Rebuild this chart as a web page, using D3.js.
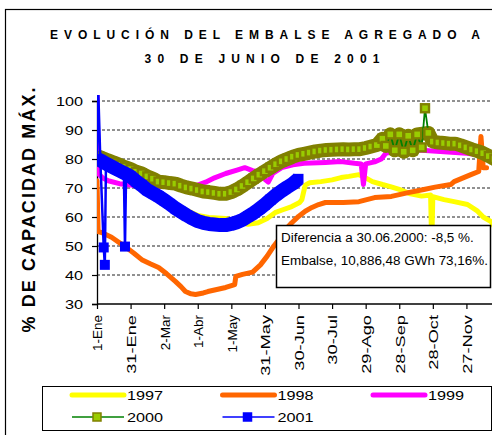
<!DOCTYPE html>
<html>
<head>
<meta charset="utf-8">
<script src="https://cdn.jsdelivr.net/npm/d3@7"></script>
<style>
  body { margin: 0; background: #fff; }
  text { font-family: "Liberation Sans", Arial, sans-serif; fill: #000; }
</style>
</head>
<body>
<div id="chart"></div>
<script>
// x axis: day of year, one tick each 30 days
var tickDays = [0, 30, 60, 90, 120, 150, 180, 210, 240, 270, 300, 330, 360];
var tickLabels = ['1-Ene', '31-Ene', '2-Mar', '1-Abr', '1-May', '31-May', '30-Jun',
                  '30-Jul', '29-Ago', '28-Sep', '28-Oct', '27-Nov', '27-Dic'];
var yTicks = [30, 40, 50, 60, 70, 80, 90, 100];

// % of max capacity
var days1997 = [0, 10, 20, 30, 40, 50, 55, 61, 70, 79, 90, 100, 115, 125, 135, 144, 152, 159, 166, 174, 181, 183,
                186, 190, 200, 210, 218, 225, 234, 240, 246, 255, 262, 270, 280, 290, 298, 299, 300, 310, 319, 331, 340, 345, 352, 356];
var vals1997 = [79, 78, 76, 74, 72, 69, 67.5, 66.4, 64, 62.5, 60.5, 59.8, 59.5, 58.5, 57.5, 58, 59.5, 61.5, 62.5, 63.6, 65, 66,
                71, 71.8, 72.2, 72.8, 73.6, 74, 74.6, 73.5, 72.2, 71.2, 70.5, 69.5, 68, 67.2, 67.6, 50, 67, 66, 65.3, 64.3, 62, 60, 58.4, 56];

var days1998 = [0, 1, 5, 13, 25, 33, 40, 48, 55, 62, 70, 75, 79, 84, 88, 95, 99, 107, 115, 123, 124, 130, 139, 146,
                152, 158, 163, 168, 174, 180, 186, 192, 198, 204, 220, 234, 248, 263, 278, 292, 302, 316, 319, 334, 341, 343, 345, 348];
var vals1998 = [72.5, 55, 54.5, 53, 49.8, 47.5, 45.3, 43.8, 42.6, 40.5, 37.8, 36, 34.3, 33.5, 33.3, 33.8, 34.3, 35, 35.7, 36.7, 39.5, 40.2, 41, 43.5,
                46.5, 50, 52.5, 55.5, 58, 60.2, 62, 63.3, 64.3, 65, 65, 65.3, 66.7, 67.1, 68.4, 69.5, 70.3, 71.2, 72.2, 74.6, 75.7, 87.8, 77, 77];

var days1999 = [0, 1, 5, 10, 20, 30, 45, 60, 75, 90, 97, 105, 115, 125, 132, 139, 145, 150, 153, 157, 165, 175, 185,
                204, 218, 230, 236, 238, 240, 248, 254, 258, 270, 290, 310, 330, 350, 360];
var vals1999 = [105, 75, 73.5, 72.5, 71.5, 71, 70.5, 70.5, 70.5, 71, 72, 73.5, 75, 76.2, 77, 76, 75.5, 73, 72, 75, 77, 78, 78.5,
                78.8, 79.1, 78.5, 78.3, 71.2, 78.3, 79, 80, 82, 83, 83, 82.5, 82, 81, 80];

var days2000 = [0, 5, 10, 15, 20, 25, 30, 35, 40, 45, 50, 55, 60, 65, 70, 75, 80, 85, 90, 95, 100, 105, 110, 115, 120,
                125, 130, 135, 140, 145, 150, 155, 160, 165, 170, 175, 180, 185, 190, 195, 200, 205, 210, 215, 220, 225,
                230, 235, 240, 245, 250, 255, 258, 262, 266, 270, 274, 278, 282, 286, 290, 293, 296, 300, 305, 310, 315,
                320, 325, 330, 335, 340, 345, 350, 355, 360];
var vals2000 = [81, 80.3, 79.5, 78.8, 78, 77.2, 76.5, 75.6, 75, 74, 73.2, 72.2, 72, 71.7, 71.5, 70.8, 70.2, 69.8, 69.3, 68.8, 68.6, 68.3, 68, 68, 68.6,
                69.5, 70.7, 72, 73.3, 74.6, 75.8, 77, 78.2, 79.2, 80, 80.8, 81.4, 81.8, 82.2, 82.6, 82.9, 83.1, 83.2, 83.3, 83.4, 83.3,
                83.4, 83.4, 83.8, 84.3, 84.8, 87, 84.5, 88.5, 83, 88.5, 82.5, 88, 83, 88.5, 84, 97.5, 89, 86, 85.7, 85.5, 85.3,
                85.3, 84.7, 84, 83.3, 82.7, 82, 81, 80, 79];

var days2001 = [0, 1, 3, 6, 7, 8, 10, 15, 20, 24, 25, 26, 30, 35, 40, 45, 50, 55, 60, 65, 70, 75, 80, 85, 90, 95,
                100, 105, 110, 115, 120, 125, 130, 135, 140, 145, 150, 155, 160, 165, 170, 175, 180];
var vals2001 = [80, 105, 79.5, 49.5, 43.5, 78.5, 78, 77, 76, 75.3, 49.8, 75, 74, 72.3, 70.9, 69.3, 68.2, 67.1, 65.8, 64.5, 63, 61.8, 60.6, 59.5, 58.6, 58,
                57.6, 57.4, 57.2, 57.2, 57.6, 58.2, 59, 60.2, 61.4, 62.8, 64.3, 66, 67.6, 69, 70.3, 71.5, 73.16];

var width = 492, height = 435;

var svg = d3.select('#chart').append('svg')
  .attr('width', width)
  .attr('height', height);

// chart frame (right and bottom fall outside the window)
svg.append('rect')
  .attr('x', 5.5).attr('y', 9.5)
  .attr('width', 600).attr('height', 600)
  .attr('fill', '#fff').attr('stroke', '#000').attr('stroke-width', 1.2);

var x = d3.scaleLinear().domain([0, 360]).range([97, 500]);
var y = d3.scaleLinear().domain([30, 100]).range([304, 101]);

// stretch text like the wide glyphs of the original
function stretch(sel, k) {
  sel.each(function() {
    var f = typeof k === 'function' ? k(this.textContent) : k;
    var w = this.getComputedTextLength();
    d3.select(this).attr('textLength', w * f).attr('lengthAdjust', 'spacingAndGlyphs');
  });
}

// title
svg.append('text')
  .attr('x', 265).attr('y', 38.5)
  .attr('text-anchor', 'middle')
  .attr('font-size', 12).attr('font-weight', 'bold')
  .attr('textLength', 430).attr('lengthAdjust', 'spacing')
  .text('EVOLUCIÓN DEL EMBALSE AGREGADO A');
svg.append('text')
  .attr('x', 262).attr('y', 62.5)
  .attr('text-anchor', 'middle')
  .attr('font-size', 12).attr('font-weight', 'bold')
  .attr('textLength', 235).attr('lengthAdjust', 'spacing')
  .text('30 DE  JUNIO DE  2001');

// y title
svg.append('text')
  .attr('transform', 'translate(35,210) rotate(-90)')
  .attr('text-anchor', 'middle')
  .attr('font-size', 18).attr('font-weight', 'bold')
  .attr('textLength', 245).attr('lengthAdjust', 'spacing')
  .text('% DE  CAPACIDAD MÁX.');

// grid
svg.append('g').selectAll('line')
  .data(yTicks.filter(function(d) { return d > 30; }))
  .enter().append('line')
  .attr('x1', x(0)).attr('x2', 520)
  .attr('y1', function(d) { return y(d); })
  .attr('y2', function(d) { return y(d); })
  .attr('stroke', '#222').attr('stroke-width', 1)
  .attr('stroke-dasharray', '3,2');

// axes
var yAxis = svg.append('g')
  .attr('transform', 'translate(' + x(0) + ',0)')
  .call(d3.axisLeft(y).tickValues(yTicks).tickSize(5).tickPadding(9));
var xAxis = svg.append('g')
  .attr('transform', 'translate(0,' + y(30) + ')')
  .call(d3.axisBottom(x).tickValues(tickDays).tickSize(5)
    .tickFormat(function(d, i) { return tickLabels[i]; }));

[yAxis, xAxis].forEach(function(a) {
  a.select('.domain').attr('stroke', '#000').attr('stroke-width', 1.3);
  a.selectAll('.tick line').attr('stroke', '#000').attr('stroke-width', 1.2);
  a.selectAll('text').attr('font-family', '"Liberation Sans", Arial, sans-serif').attr('fill', '#000');
});
xAxis.select('.domain').attr('d', 'M' + x(0) + ',0H520');
yAxis.selectAll('text').attr('font-size', 13.5).attr('dy', '0.33em');
stretch(yAxis.selectAll('text'), 1.2);

xAxis.selectAll('text')
  .attr('font-size', 13.5)
  .attr('transform', 'rotate(-90)')
  .attr('x', -11).attr('y', 0).attr('dy', '0.36em')
  .style('text-anchor', 'end');
stretch(xAxis.selectAll('text'), function(t) { return /^\d\d/.test(t) ? 1.35 : 1.0; });

// plot
svg.append('clipPath').attr('id', 'plotclip')
  .append('rect').attr('x', x(0)).attr('y', y(100) - 6)
  .attr('width', 500).attr('height', y(30) - y(100) + 6);

var plot = svg.append('g').attr('clip-path', 'url(#plotclip)');

function pairs(ds, vs) { return ds.map(function(d, i) { return [d, vs[i]]; }); }

// points far off both neighbours (one-day jumps) stay out of the marker band
function band(data) {
  return data.filter(function(d, i) {
    if (d[1] > 100) return false;
    if (i === 0 || i === data.length - 1) return true;
    var mid = (data[i - 1][1] + data[i + 1][1]) / 2;
    return Math.abs(d[1] - mid) < 8;
  });
}

var line = d3.line()
  .x(function(d) { return x(d[0]); })
  .y(function(d) { return y(d[1]); });

var thick = [
  { data: pairs(days1997, vals1997), color: '#FFFF00' },
  { data: pairs(days1998, vals1998), color: '#FF6600' },
  { data: pairs(days1999, vals1999), color: '#FF00FF' }
];
thick.forEach(function(s) {
  plot.append('path')
    .datum(s.data)
    .attr('d', line)
    .attr('fill', 'none')
    .attr('stroke', s.color)
    .attr('stroke-width', 5)
    .attr('stroke-linejoin', 'round')
    .attr('stroke-linecap', 'round');
});

var ms = 8;
var d2000 = pairs(days2000, vals2000);
plot.append('path').datum(band(d2000)).attr('d', line)
  .attr('fill', 'none').attr('stroke', '#808000').attr('stroke-width', 14)
  .attr('stroke-linejoin', 'round');
plot.append('path').datum(d2000).attr('d', line)
  .attr('fill', 'none').attr('stroke', '#008000').attr('stroke-width', 1.8);
plot.append('g').selectAll('rect')
  .data(d2000).enter().append('rect')
  .attr('x', function(d) { return x(d[0]) - ms / 2; })
  .attr('y', function(d) { return y(d[1]) - ms / 2; })
  .attr('width', ms).attr('height', ms)
  .attr('fill', '#99CC00').attr('stroke', '#808000').attr('stroke-width', 2.4);

var d2001 = pairs(days2001, vals2001);
plot.append('path').datum(band(d2001)).attr('d', line)
  .attr('fill', 'none').attr('stroke', '#0000FF').attr('stroke-width', 14)
  .attr('stroke-linejoin', 'round');
plot.append('path').datum(d2001).attr('d', line)
  .attr('fill', 'none').attr('stroke', '#0000FF').attr('stroke-width', 2.5);
plot.append('g').selectAll('rect')
  .data(d2001).enter().append('rect')
  .attr('x', function(d) { return x(d[0]) - 5; })
  .attr('y', function(d) { return y(d[1]) - 5; })
  .attr('width', 10).attr('height', 10)
  .attr('fill', '#0000FF');

// note box
var note = svg.append('g');
note.append('rect')
  .attr('x', 276.5).attr('y', 225.5).attr('width', 214).attr('height', 62)
  .attr('fill', '#fff').attr('stroke', '#000').attr('stroke-width', 1.5);
var noteText = note.selectAll('text')
  .data(['Diferencia a 30.06.2000: -8,5 %.', 'Embalse, 10,886,48 GWh 73,16%.'])
  .enter().append('text')
  .attr('x', 281)
  .attr('y', function(d, i) { return 242 + i * 23; })
  .attr('font-size', 12)
  .text(function(d) { return d; });
stretch(noteText, 1.12);

// legend
var legendItems = [
  { label: '1997', color: '#FFFF00', marker: false },
  { label: '1998', color: '#FF6600', marker: false },
  { label: '1999', color: '#FF00FF', marker: false },
  { label: '2000', color: '#008000', marker: true, fill: '#99CC00', stroke: '#808000' },
  { label: '2001', color: '#0000FF', marker: true, fill: '#0000FF', stroke: '#0000FF' }
];
svg.append('rect')
  .attr('x', 42.5).attr('y', 386.5).attr('width', 449).attr('height', 44)
  .attr('fill', '#fff').attr('stroke', '#000').attr('stroke-width', 1);

var legend = svg.selectAll('.legend')
  .data(legendItems).enter().append('g')
  .attr('class', 'legend')
  .attr('transform', function(d, i) {
    return 'translate(' + (72 + (i % 3) * 150.5) + ',' + (395 + Math.floor(i / 3) * 22) + ')';
  });
legend.append('line')
  .attr('x1', 0).attr('x2', 52).attr('y1', 0).attr('y2', 0)
  .attr('stroke', function(d) { return d.color; })
  .attr('stroke-width', function(d) { return d.marker ? 1.5 : 5; })
  .attr('stroke-linecap', function(d) { return d.marker ? 'butt' : 'round'; });
legend.filter(function(d) { return d.marker; }).append('rect')
  .attr('x', 21).attr('y', -4).attr('width', 8).attr('height', 8)
  .attr('fill', function(d) { return d.fill; })
  .attr('stroke', function(d) { return d.stroke; })
  .attr('stroke-width', 1.5);
var legendText = legend.append('text')
  .attr('x', 55).attr('dy', '0.36em')
  .attr('font-size', 13.5)
  .text(function(d) { return d.label; });
stretch(legendText, 1.2);
</script>
</body>
</html>
